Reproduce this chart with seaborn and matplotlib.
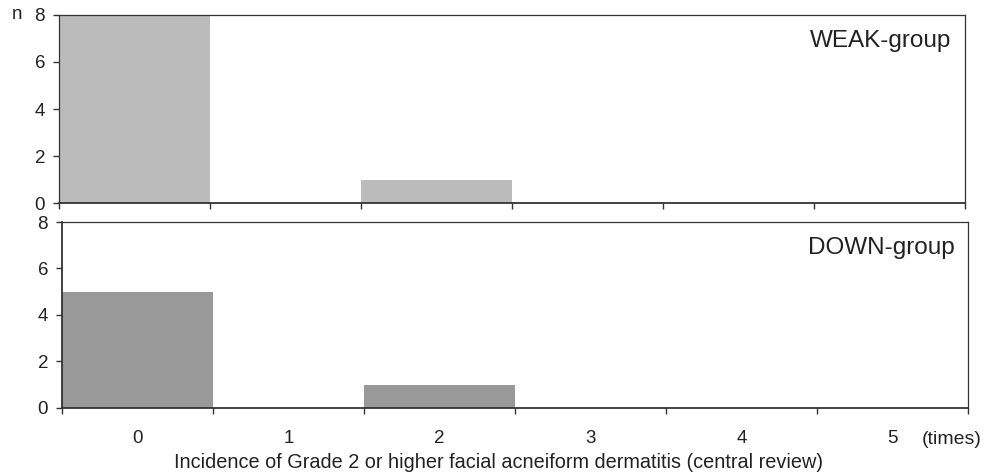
import matplotlib
matplotlib.use('Agg')
import matplotlib.pyplot as plt
import seaborn as sns
import pandas as pd

sns.set_theme(style='white')
plt.rcParams['font.family'] = ['Liberation Sans', 'DejaVu Sans']

# Data
times = ['0', '1', '2', '3', '4', '5']
weak_n = [8, 0, 1, 0, 0, 0]
down_n = [5, 0, 1, 0, 0, 0]
weak_color = '#bbbbbb'
down_color = '#999999'

fig = plt.figure(figsize=(9.98, 4.76), dpi=100)
ax1 = fig.add_axes([0.0591, 0.5735, 0.908, 0.395])
ax2 = fig.add_axes([0.0621, 0.1429, 0.908, 0.3907])

panels = [(ax1, weak_n, weak_color, 'WEAK-group'),
          (ax2, down_n, down_color, 'DOWN-group')]

for ax, vals, col, name in panels:
    df = pd.DataFrame({'times': times, 'n': vals})
    sns.barplot(data=df, x='times', y='n', color=col, saturation=1,
                width=1.0, ax=ax, linewidth=0)
    ax.set_xlim(-0.5, 5.5)
    ax.set_ylim(0, 8)
    ax.set_yticks([0, 2, 4, 6, 8])
    ax.set_xticks([i - 0.5 for i in range(7)])
    ax.set_xticklabels([])
    ax.set_xlabel('')
    ax.set_ylabel('')
    ax.tick_params(axis='y', direction='out', length=4, width=1, color='#333333',
                   labelsize=13.5, pad=6, left=True, labelcolor='#222222')
    ax.tick_params(axis='x', direction='out', length=4, width=1, color='#333333', bottom=True)
    for s in ax.spines.values():
        s.set_visible(True)
        s.set_color('#333333')
        s.set_linewidth(0.9)
    ax.spines['bottom'].set_linewidth(1.3)
    ax.text(0.985, 0.86, name, transform=ax.transAxes, ha='right', va='center',
            fontsize=17.5, color='#222222')

ax2.spines['left'].set_linewidth(1.3)

# category labels centered under the bars in the lower panel
ax2.set_xticks(range(len(times)), minor=True)
ax2.set_xticklabels(times, minor=True)
ax2.tick_params(axis='x', which='minor', length=0, labelsize=13.5, pad=16,
                labelcolor='#222222')

ax1.text(-0.052, 1.0, 'n', transform=ax1.transAxes, ha='left', va='center',
         fontsize=13.5, color='#222222')
ax2.text(5.19, -0.125, '(times)', transform=ax2.get_xaxis_transform(), ha='left',
         va='top', fontsize=14, color='#222222')
fig.text(0.5, 0.029, 'Incidence of Grade 2 or higher facial acneiform dermatitis (central review)',
         ha='center', va='center', fontsize=14.3, color='#222222')

fig.savefig('out.png', dpi=100)
